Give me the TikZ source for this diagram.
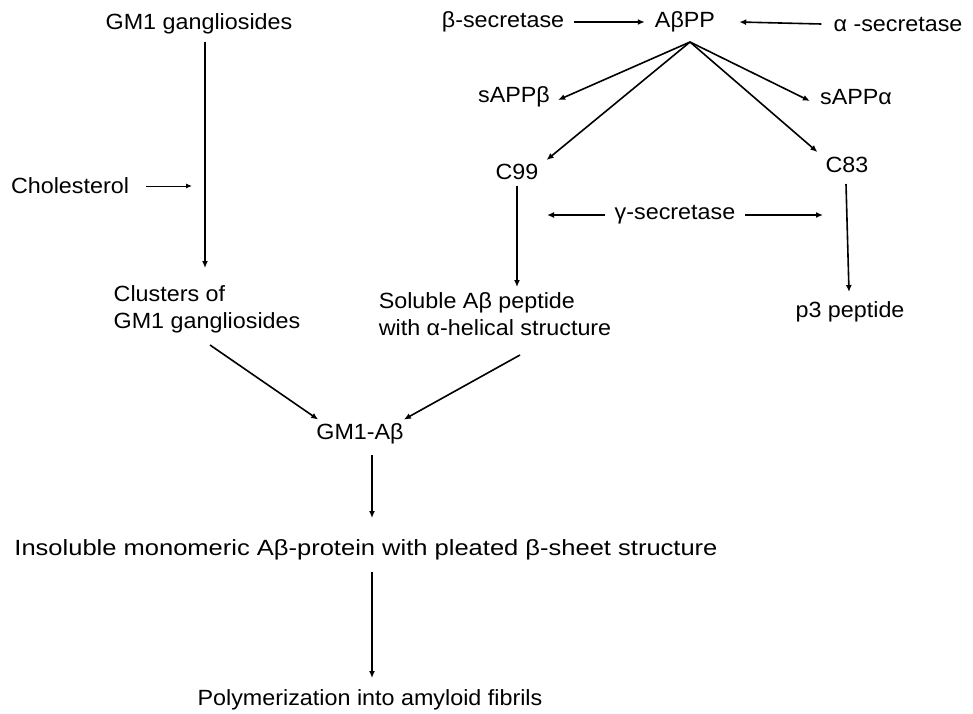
\documentclass[tikz,border=0pt]{standalone}
\usepackage{fontspec}
\setmainfont{Liberation Sans}[FakeStretch=1.06]
\newfontfamily\widefont{Liberation Sans}[FakeStretch=1.16]
\usetikzlibrary{arrows.meta}
\begin{document}
\begin{tikzpicture}[x=1pt,y=-1pt,
  lbl/.style={inner sep=2pt, font=\fontsize{22}{27}\selectfont},
  arr/.style={line width=1.6pt, -{Latex[length=7pt,width=6pt]}},
  tarr/.style={line width=1pt, -{Latex[length=6pt,width=5pt]}}]
\useasboundingbox[fill=white] (0,0) rectangle (973,713);
% nodes
\node[lbl] (gm1) at (199,24) {GM1 gangliosides};
\node[lbl] (chol) at (70,186) {Cholesterol};
\node[lbl, align=left] (clus) at (207,309) {Clusters of\\GM1 gangliosides};
\node[lbl] (bsec) at (503,22) {β-secretase};
\node[lbl] (app) at (685,22) {AβPP};
\node[lbl] (asec) at (898,24) {α -secretase};
\node[lbl] (sapb) at (514,97) {sAPPβ};
\node[lbl] (sapa) at (856,97) {sAPPα};
\node[lbl] (c99) at (517,172) {C99};
\node[lbl] (c83) at (847,165) {C83};
\node[lbl] (gsec) at (675,215) {γ-secretase};
\node[lbl, align=left] (sol) at (495,314) {Soluble Aβ peptide\\with α-helical structure};
\node[lbl] (p3) at (850,312) {p3 peptide};
\node[lbl] (gmab) at (360,434) {GM1-Aβ};
\node[lbl, font=\fontsize{22}{27}\widefont] (ins) at (366,550) {Insoluble monomeric Aβ-protein with pleated β-sheet structure};
\node[lbl] (poly) at (370,700) {Polymerization into amyloid fibrils};
% helper coordinates
\coordinate (root) at (690,42);
\coordinate (vtop) at (205,42);
\coordinate (vbot) at (205,268);
\coordinate (cholstart) at (146,186);
\coordinate (cholend) at (192,186);
% connectors
\draw[arr] (vtop) -- (vbot);
\draw[tarr] (cholstart) -- (cholend);
\draw[arr] ([xshift=8pt]bsec.east) -- ([xshift=-8pt]app.west);
\draw[arr] ([xshift=-10pt]asec.west) -- ([xshift=22pt]app.east);
\draw[arr] (root) -- ([xshift=6pt,yshift=-3pt]sapb.east);
\draw[arr] (root) -- ([xshift=-8pt,yshift=-4pt]sapa.west);
\draw[arr] (root) -- ([xshift=6pt,yshift=2pt]c99.north east);
\draw[arr] (root) -- ([xshift=-6pt,yshift=3pt]c83.north west);
\draw[arr] ([xshift=-8pt]gsec.west) -- (547,215);
\draw[arr] ([xshift=8pt]gsec.east) -- (823,215);
\draw[arr] (517,186) -- (517,287);
\draw[arr] (846,184) -- (849,292);
\draw[arr] (210,345) -- ([xshift=4pt,yshift=2pt]gmab.north west);
\draw[arr] (520,355) -- ([xshift=-2pt,yshift=2pt]gmab.north east);
\draw[arr] (372,455) -- (372,518);
\draw[arr] (372,572) -- (372,678);
\end{tikzpicture}
\end{document}
